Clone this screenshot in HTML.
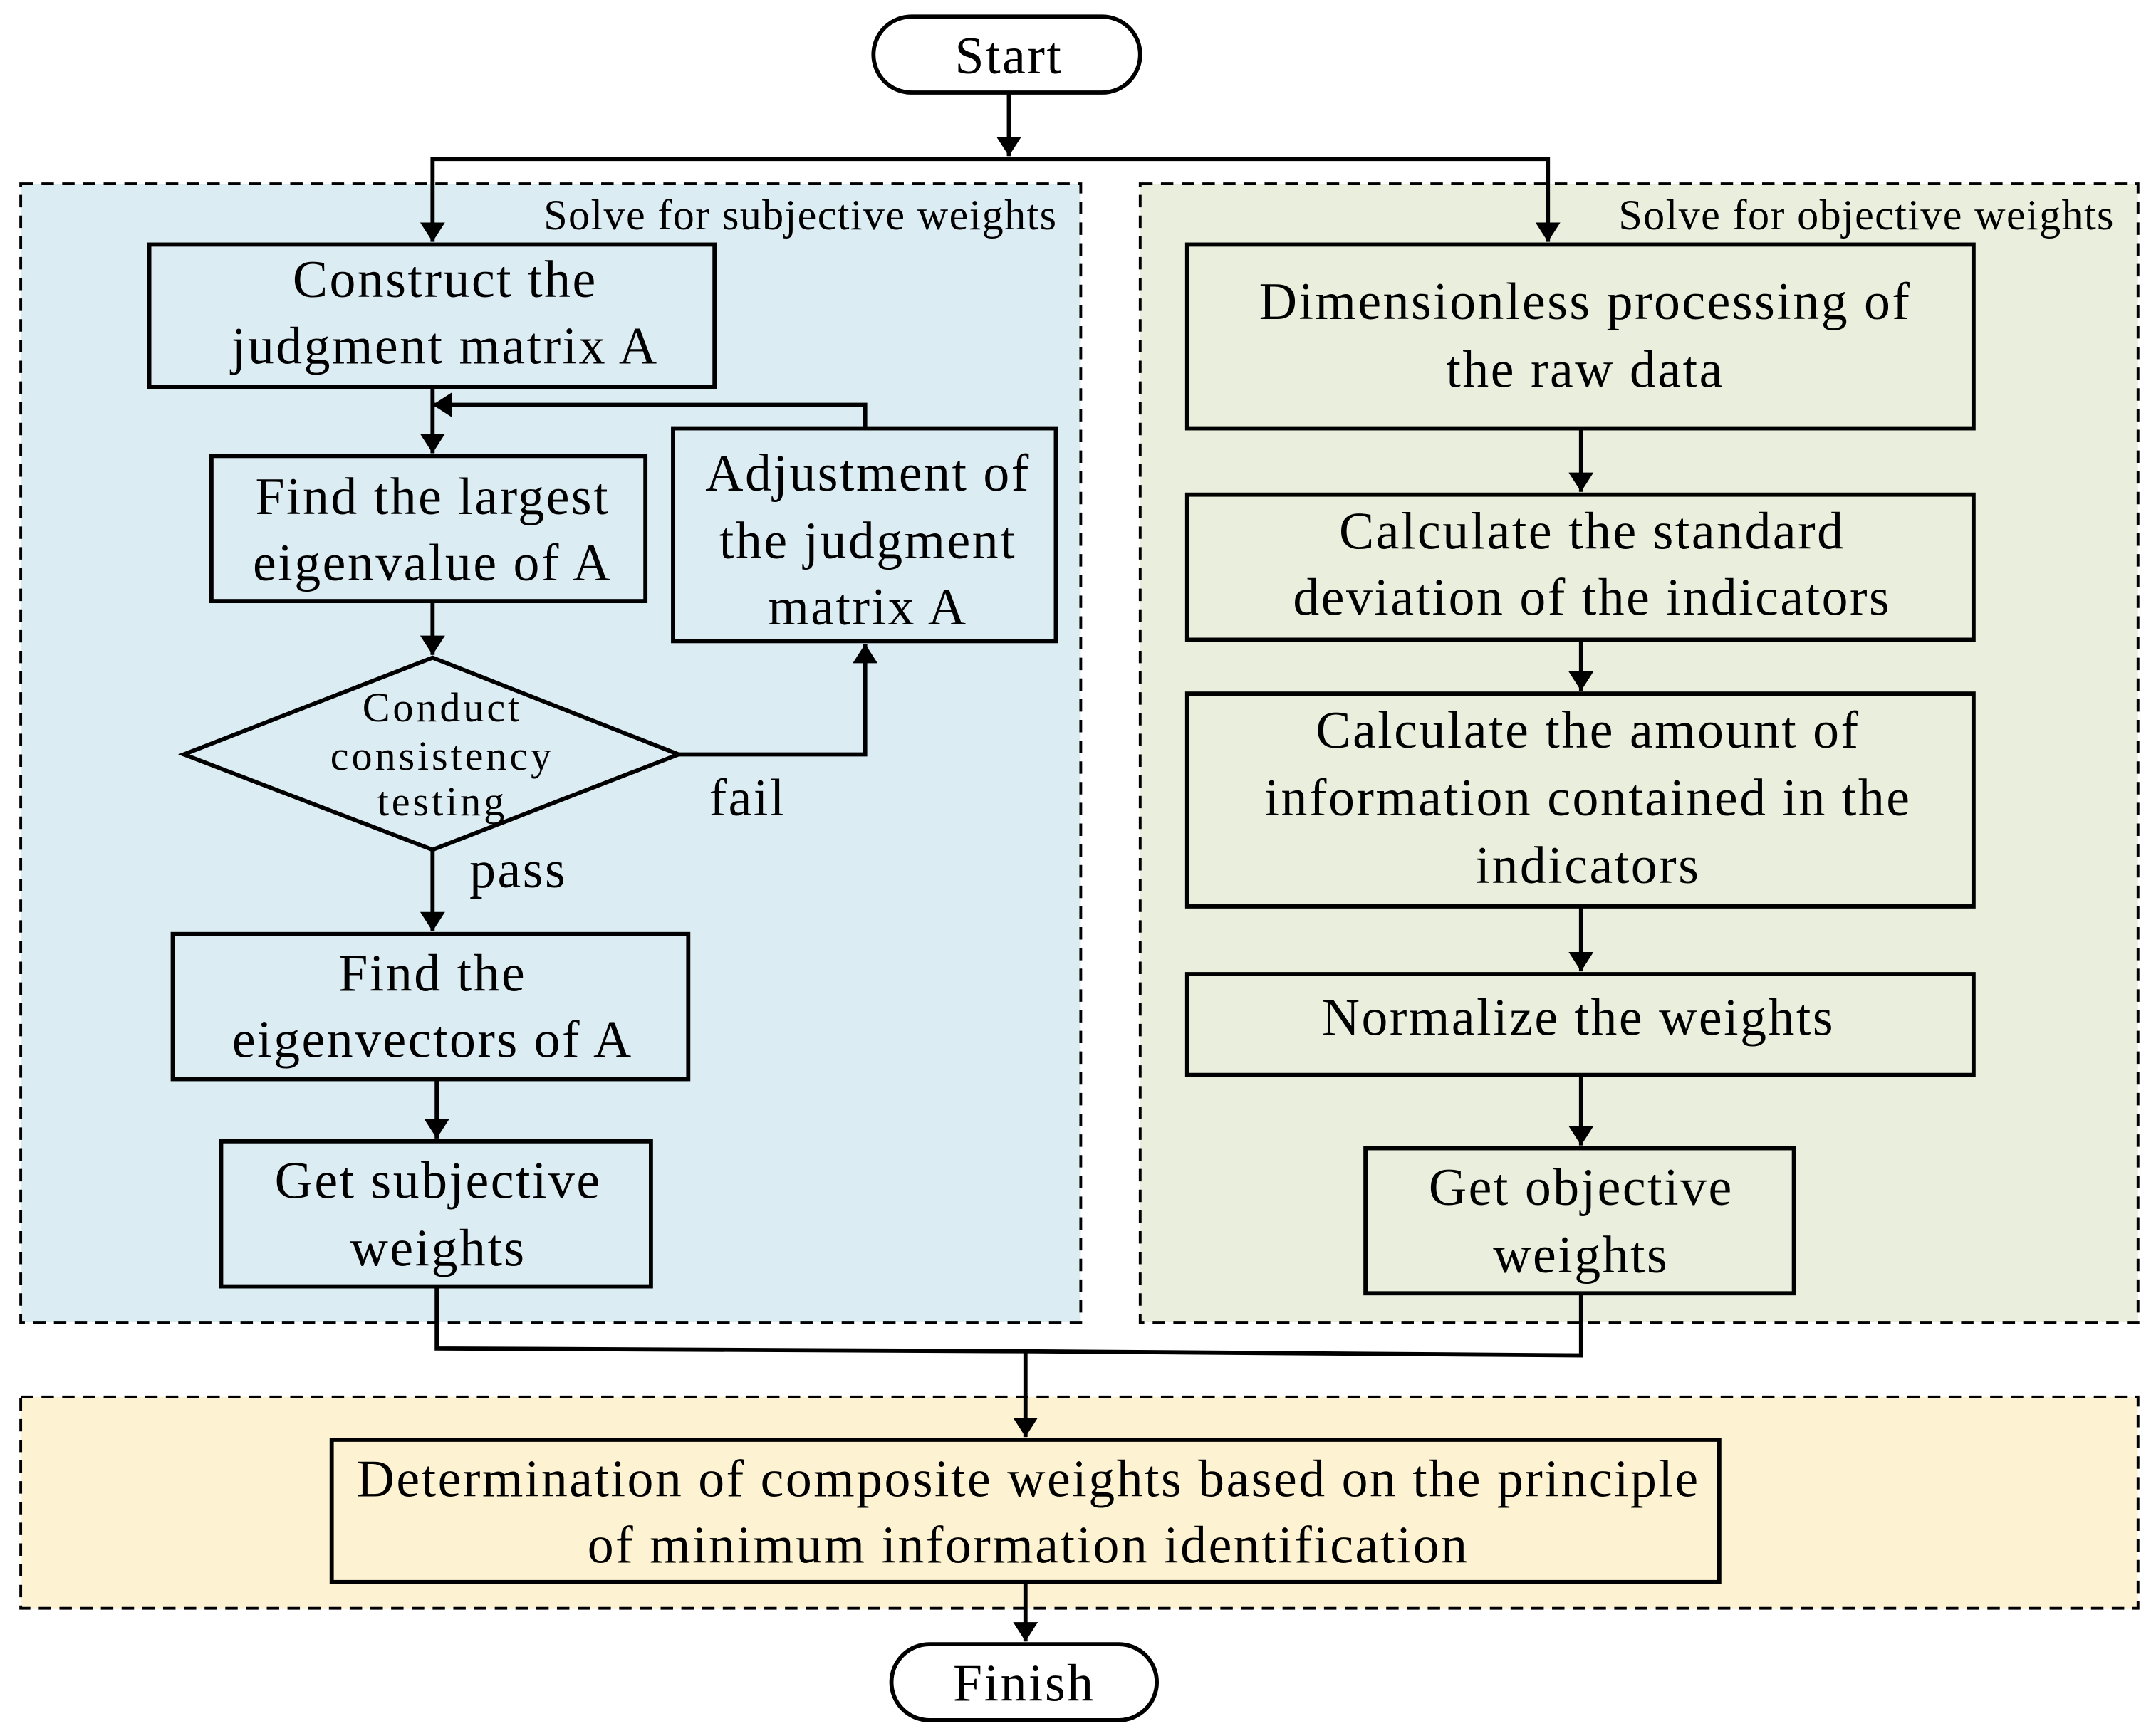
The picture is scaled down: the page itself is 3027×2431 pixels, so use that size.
<!DOCTYPE html>
<html><head><meta charset="utf-8"><style>
html,body{margin:0;padding:0;background:#fff;}
svg{display:block;}
text{font-family:"Liberation Serif",serif;fill:#000;}
</style></head><body>
<svg width="3027" height="2431" viewBox="0 0 1560 1252.8" preserveAspectRatio="none" xmlns="http://www.w3.org/2000/svg">
<defs>
<marker id="b" markerWidth="14" markerHeight="18" refX="14" refY="9" orient="auto" markerUnits="userSpaceOnUse" viewBox="0 0 14 18"><path d="M0,0 L14,9 L0,18 z" fill="#000"/></marker></defs>
<rect width="1560" height="1253" fill="#fff"/>
<rect x="15" y="133" width="767" height="824" fill="#dbecf3" stroke="#000" stroke-width="2" stroke-dasharray="9,6"/>
<rect x="825" y="133" width="722" height="824" fill="#e9eedd" stroke="#000" stroke-width="2" stroke-dasharray="9,6"/>
<rect x="15" y="1011" width="1532" height="153" fill="#fdf3d3" stroke="#000" stroke-width="2" stroke-dasharray="9,6"/>
<text x="765" y="166" font-size="31" letter-spacing="0.7" text-anchor="end">Solve for subjective weights</text>
<text x="1530" y="166" font-size="31" letter-spacing="0.7" text-anchor="end">Solve for objective weights</text>
<g stroke="#000" stroke-width="3" fill="none">
<rect x="632" y="12" width="193" height="55" rx="27.5" fill="#fff"/>
<rect x="645" y="1190" width="192" height="55" rx="27.5" fill="#fff"/>
<rect x="108" y="177" width="409" height="103"/>
<rect x="153" y="330" width="314" height="105"/>
<rect x="487" y="310" width="277" height="154"/>
<polygon points="133,546 313,476 491,546 313,615"/>
<rect x="125" y="676" width="373" height="105"/>
<rect x="160" y="826" width="311" height="105"/>
<rect x="859" y="177" width="569" height="133"/>
<rect x="859" y="358" width="569" height="105"/>
<rect x="859" y="502" width="569" height="154"/>
<rect x="859" y="705" width="569" height="73"/>
<rect x="988" y="831" width="310" height="105"/>
<rect x="240" y="1042" width="1004" height="103"/>
<g marker-end="url(#b)">
<line x1="730" y1="67" x2="730" y2="113"/>
<polyline points="730,115 313,115 313,175"/>
<polyline points="730,115 1120,115 1120,175"/>
<line x1="313" y1="280" x2="313" y2="328"/>
<polyline points="626,310 626,293 313,293"/>
<line x1="313" y1="435" x2="313" y2="474"/>
<polyline points="491,546 626,546 626,466"/>
<line x1="313" y1="615" x2="313" y2="674"/>
<line x1="316" y1="781" x2="316" y2="824"/>
<line x1="1144" y1="310" x2="1144" y2="356"/>
<line x1="1144" y1="463" x2="1144" y2="500"/>
<line x1="1144" y1="656" x2="1144" y2="703"/>
<line x1="1144" y1="778" x2="1144" y2="829"/>
<line x1="742" y1="978" x2="742" y2="1040"/>
<line x1="742" y1="1145" x2="742" y2="1188"/>
</g>
<polyline points="316,931 316,976 742,978 1144,981 1144,936"/>
</g>
<g font-size="38" letter-spacing="1.3" text-anchor="middle">
<text x="730" y="53">Start</text>
<text x="741" y="1231">Finish</text>
<text x="322" y="215">Construct the</text>
<text x="322" y="263">judgment matrix A</text>
<text x="313" y="372">Find the largest</text>
<text x="313" y="420">eigenvalue of A</text>
<text x="628" y="355">Adjustment of</text>
<text x="628" y="404">the judgment</text>
<text x="628" y="452">matrix A</text>
<text x="313" y="717">Find the</text>
<text x="313" y="765">eigenvectors of A</text>
<text x="317" y="867">Get subjective</text>
<text x="317" y="916">weights</text>
<text x="1147" y="231">Dimensionless processing of</text>
<text x="1147" y="280">the raw data</text>
<text x="1152" y="397">Calculate the standard</text>
<text x="1152" y="445">deviation of the indicators</text>
<text x="1149" y="541">Calculate the amount of</text>
<text x="1149" y="590">information contained in the</text>
<text x="1149" y="639">indicators</text>
<text x="1142" y="749">Normalize the weights</text>
<text x="1144" y="872">Get objective</text>
<text x="1144" y="921">weights</text>
<text x="744" y="1083">Determination of composite weights based on the principle</text>
<text x="744" y="1131">of minimum information identification</text>
<text x="541" y="590">fail</text>
<text x="375" y="642">pass</text>
</g>
<g font-size="30" letter-spacing="2" text-anchor="middle">
<text x="320" y="522">Conduct</text>
<text x="320" y="557">consistency</text>
<text x="320" y="590">testing</text>
</g>
</svg>
</body></html>
